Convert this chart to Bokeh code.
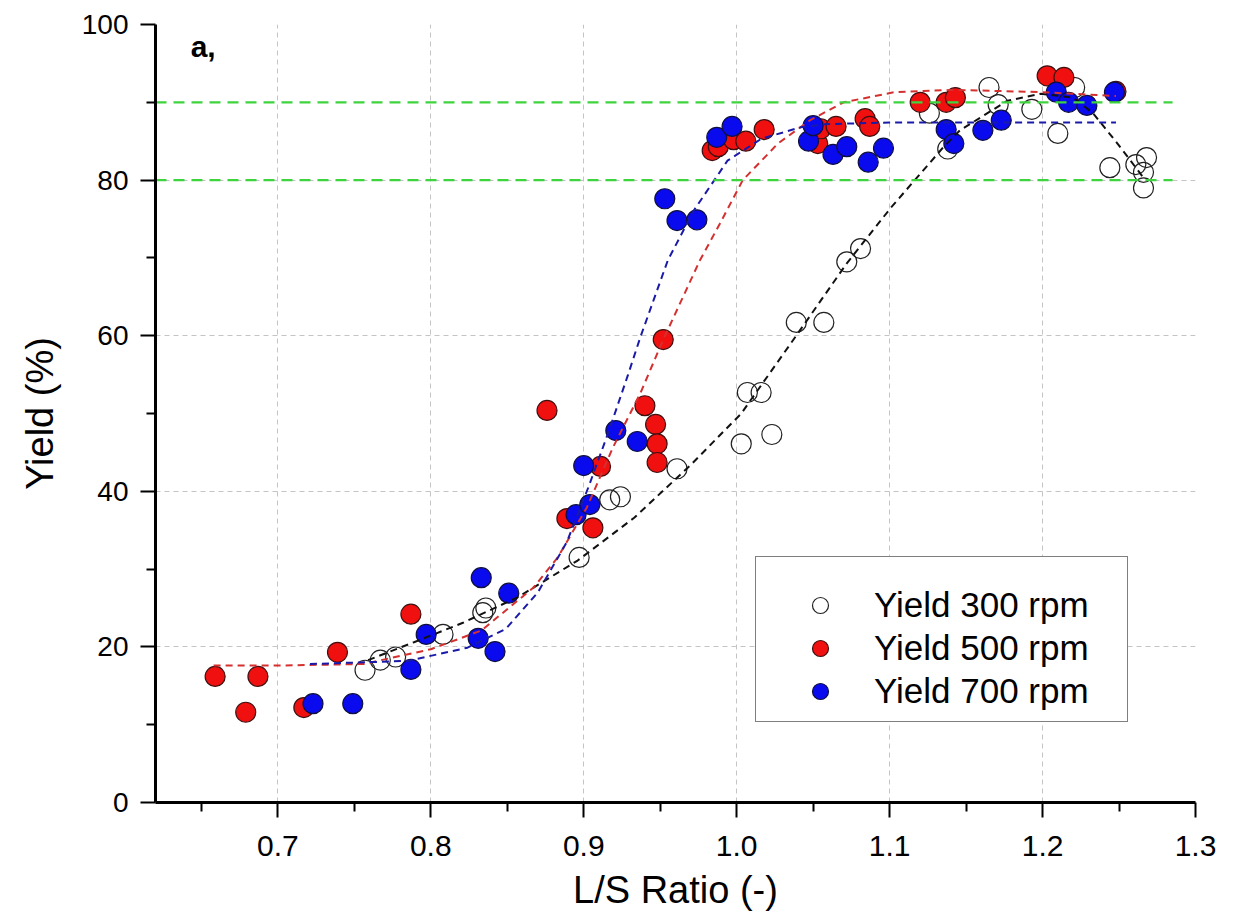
from bokeh.plotting import figure
from bokeh.models import FixedTicker, Legend, LegendItem, Label, Range1d, NumeralTickFormatter
from bokeh.embed import file_html
from bokeh.resources import INLINE

# ---------------- data ----------------
x300 = [0.757, 0.767, 0.777, 0.808, 0.834, 0.836, 0.897, 0.917, 0.924, 0.961,
        1.003, 1.007, 1.016, 1.023, 1.039, 1.057, 1.072, 1.081, 1.126, 1.138,
        1.165, 1.171, 1.193, 1.210, 1.221, 1.244, 1.261, 1.268, 1.266, 1.266]
y300 = [17.0, 18.3, 18.7, 21.6, 24.4, 25.0, 31.5, 38.9, 39.3, 42.9,
        46.1, 52.7, 52.7, 47.3, 61.7, 61.7, 69.5, 71.2, 88.6, 84.0,
        91.9, 89.7, 89.1, 86.0, 91.9, 81.6, 82.0, 82.9, 81.0, 79.0]

x500 = [0.659, 0.679, 0.687, 0.717, 0.739, 0.787, 0.876, 0.889, 0.906, 0.911,
        0.940, 0.947, 0.948, 0.948, 0.952, 0.984, 0.988, 0.998, 1.006, 1.018,
        1.053, 1.055, 1.065, 1.084, 1.087, 1.120, 1.137, 1.143, 1.203, 1.214, 1.248]
y500 = [16.2, 11.6, 16.2, 12.2, 19.3, 24.2, 50.4, 36.5, 35.3, 43.2,
        51.0, 48.6, 46.1, 43.7, 59.5, 83.8, 84.3, 85.2, 85.0, 86.5,
        84.7, 86.6, 86.9, 87.9, 86.9, 90.0, 90.0, 90.6, 93.4, 93.2, 91.4]

x700 = [0.723, 0.749, 0.787, 0.797, 0.831, 0.833, 0.842, 0.851, 0.895, 0.900,
        0.904, 0.921, 0.935, 0.953, 0.961, 0.974, 0.987, 0.997, 1.047, 1.050,
        1.063, 1.072, 1.086, 1.096, 1.137, 1.142, 1.161, 1.173, 1.209, 1.217, 1.229, 1.247]
y700 = [12.7, 12.7, 17.1, 21.6, 21.1, 28.9, 19.4, 26.9, 37.0, 43.3,
        38.3, 47.8, 46.4, 77.6, 74.8, 74.9, 85.5, 86.9, 85.0, 87.0,
        83.3, 84.3, 82.3, 84.1, 86.5, 84.7, 86.4, 87.7, 91.3, 90.0, 89.6, 91.3]

# fitted curves
fit300_x = [0.759, 0.789, 0.821, 0.857, 0.896, 0.933, 0.970, 1.003, 1.040, 1.072,
            1.101, 1.120, 1.135, 1.146, 1.177, 1.199, 1.220, 1.233, 1.249, 1.266]
fit300_y = [18.3, 20.6, 23.1, 26.4, 31.1, 36.6, 43.4, 50.0, 60.3, 69.3,
            76.5, 80.8, 84.2, 86.4, 90.2, 91.1, 90.6, 88.6, 84.7, 80.3]

fit500_x = [0.658, 0.700, 0.756, 0.800, 0.833, 0.867, 0.883, 0.902, 0.919, 0.937,
            0.952, 0.976, 0.989, 1.004, 1.027, 1.048, 1.070, 1.103, 1.142, 1.200, 1.248]
fit500_y = [17.6, 17.6, 17.8, 19.7, 22.1, 27.6, 31.5, 37.9, 45.6, 52.6,
            59.5, 69.7, 74.4, 80.0, 84.7, 87.7, 90.0, 91.3, 91.6, 91.3, 90.8]

fit700_x = [0.721, 0.785, 0.824, 0.849, 0.870, 0.889, 0.903, 0.916, 0.929, 0.937,
            0.955, 0.972, 0.994, 1.016, 1.042, 1.059, 1.100, 1.150, 1.248]
fit700_y = [17.8, 18.2, 19.9, 22.3, 27.0, 33.5, 40.5, 47.5, 55.0, 59.8,
            69.7, 76.1, 82.5, 85.3, 86.8, 87.2, 87.4, 87.4, 87.4]

green_levels = [80, 90]
green_x = [0.62, 1.285]

x_ticks = [0.7, 0.8, 0.9, 1.0, 1.1, 1.2, 1.3]
x_minor = [0.65, 0.75, 0.85, 0.95, 1.05, 1.15, 1.25]
y_ticks = [0, 20, 40, 60, 80, 100]
y_minor = [10, 30, 50, 70, 90]

FONT = "Liberation Sans"

p = figure(width=1238, height=924, output_backend="svg", toolbar_location=None,
           x_range=Range1d(0.62, 1.3), y_range=Range1d(0, 100),
           min_border_left=155, min_border_right=43, min_border_top=24,
           min_border_bottom=122, outline_line_color=None,
           background_fill_color="white", border_fill_color="white")

# axes
p.xaxis.ticker = FixedTicker(ticks=x_ticks, minor_ticks=x_minor)
p.yaxis.ticker = FixedTicker(ticks=y_ticks, minor_ticks=y_minor)
p.xaxis.formatter = NumeralTickFormatter(format="0.0")
for ax in (p.xaxis, p.yaxis):
    ax.axis_line_width = 3
    ax.axis_line_color = "black"
    ax.major_tick_line_width = 2
    ax.minor_tick_line_width = 2
    ax.major_tick_out = 15
    ax.major_tick_in = 0
    ax.minor_tick_out = 9
    ax.minor_tick_in = 0
    ax.major_label_text_font = FONT
    ax.axis_label_text_font = FONT
    ax.axis_label_text_font_style = "normal"
    ax.major_label_text_color = "black"
    ax.axis_label_text_color = "black"
p.xaxis.major_label_text_font_size = "30px"
p.yaxis.major_label_text_font_size = "28px"
p.xaxis.major_label_standoff = 18
p.yaxis.major_label_standoff = 12
p.xaxis.axis_label = "L/S Ratio (-)"
p.yaxis.axis_label = "Yield (%)"
p.xaxis.axis_label_text_font_size = "38px"
p.yaxis.axis_label_text_font_size = "38px"
p.xaxis.axis_label_standoff = 10
p.yaxis.axis_label_standoff = 18

# grids
p.xgrid.ticker = FixedTicker(ticks=x_ticks[:-1])
p.ygrid.ticker = FixedTicker(ticks=y_ticks[1:-1])
for g in (p.xgrid, p.ygrid):
    g.grid_line_color = "#c4c4c4"
    g.grid_line_dash = "5 4"
    g.grid_line_width = 1

# points
r300 = p.scatter(x300, y300, size=20, marker="circle", fill_alpha=0,
                 line_color="#222222", line_width=1.2)
r500 = p.scatter(x500, y500, size=20, marker="circle", fill_color="#f01010",
                 line_color="#401010", line_width=1.2)
r700 = p.scatter(x700, y700, size=20, marker="circle", fill_color="#0a0aee",
                 line_color="#101040", line_width=1.2)

# fitted curves
p.line(fit300_x, fit300_y, line_color="#111111", line_width=2, line_dash="7 5")
p.line(fit500_x, fit500_y, line_color="#d43030", line_width=2, line_dash="7 5")
p.line(fit700_x, fit700_y, line_color="#1a1aa8", line_width=2, line_dash="7 5")

# reference levels
for lvl in green_levels:
    p.line(green_x, [lvl, lvl], line_color="#3ed43e", line_width=2.2, line_dash="11 7")

# panel label
p.add_layout(Label(x=0.643, y=99.3, text="a,", text_font=FONT, text_font_size="30px",
                   text_font_style="bold", text_baseline="top", text_color="black"))

legend = Legend(items=[LegendItem(label="Yield 300 rpm", renderers=[r300]),
                       LegendItem(label="Yield 500 rpm", renderers=[r500]),
                       LegendItem(label="Yield 700 rpm", renderers=[r700])],
                location=(600, 80), title=" ", title_text_font_size="13px",
                title_standoff=3, padding=10, glyph_width=108, glyph_height=40,
                label_standoff=0, label_width=243, spacing=3,
                label_text_font=FONT, label_text_font_size="35px",
                label_text_color="black",
                border_line_color="black", border_line_width=1.5,
                background_fill_color="white", background_fill_alpha=1)
p.add_layout(legend)

open("out.html", "w").write(file_html(p, INLINE))
